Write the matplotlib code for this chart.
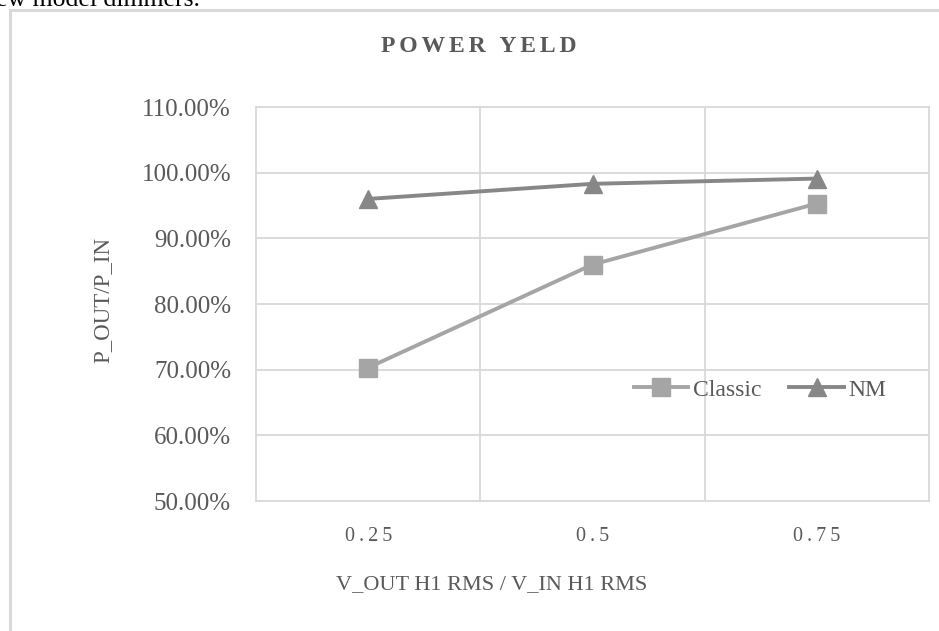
import matplotlib.pyplot as plt
from matplotlib.patches import Rectangle
from matplotlib.ticker import PercentFormatter, FixedLocator

categories = ['0.25', '0.5', '0.75']
classic = [70.3, 86.0, 95.3]
nm = [96.0, 98.3, 99.1]

plt.rcParams['font.family'] = ['Liberation Serif', 'DejaVu Serif', 'DejaVu Sans']
txt = '#595959'
grid = '#D9D9D9'

fig = plt.figure(figsize=(9.39, 6.31), dpi=100)
ax = fig.add_axes([256/939, 1 - 501/631, (929-256)/939, (501-107)/631])

x = [1, 2, 3]
ax.plot(x, classic, color='#A5A5A5', lw=2.8, marker='s', ms=13, label='Classic', zorder=3)
ax.plot(x, nm, color='#878787', lw=2.8, marker='^', ms=13, label='NM', zorder=3)

ax.set_xlim(0.5, 3.5)
ax.set_ylim(50, 110)
ax.set_yticks(range(50, 111, 10))
ax.yaxis.set_major_formatter(PercentFormatter(decimals=2))
ax.set_xticks(x)
# letter-spaced category labels, like the original
ax.set_xticklabels(['\u2009'.join(c) for c in categories])
ax.xaxis.set_minor_locator(FixedLocator([1.5, 2.5]))
ax.grid(axis='y', which='major', color=grid, lw=1.3)
ax.grid(axis='x', which='minor', color=grid, lw=1.3)
ax.tick_params(which='both', length=0, colors=txt)
ax.tick_params(axis='y', labelsize=18, pad=18)
ax.tick_params(axis='x', labelsize=14.5, pad=19)
for s in ax.spines.values():
    s.set_color(grid)
    s.set_linewidth(1.3)

fig.text(103/939, 1 - 300/631, 'P_OUT/P_IN', rotation=90, ha='center', va='center',
         color=txt, fontsize=16.5)
fig.text(492/939, 1 - 585/631, 'V_OUT H1 RMS / V_IN H1 RMS', ha='center', va='center',
         color=txt, fontsize=16)

fig.text(479/939, 1 - 46/631, '\u2006'.join('POWER') + '\u2006 \u2006' + '\u2006'.join('YELD'),
         ha='center', va='center', fontsize=17, fontweight='bold', color=txt)

ax.legend(loc='center', bbox_to_anchor=((760-256)/673, (501-390)/394), ncol=2,
          frameon=False, fontsize=17, labelcolor=txt, handlelength=2.3,
          handletextpad=0.2, columnspacing=1.2, borderpad=0)

fig.patches.append(Rectangle((9.5/939, -0.1), 1.2, 1 - 10/631 + 0.1,
                             transform=fig.transFigure, fill=False,
                             edgecolor=grid, lw=2.2))
fig.text(-0.004, 1 - 6/631, 'ew model dimmers.', ha='left', va='baseline',
         fontsize=18.5, color='black')

fig.savefig('out.png', dpi=100)
